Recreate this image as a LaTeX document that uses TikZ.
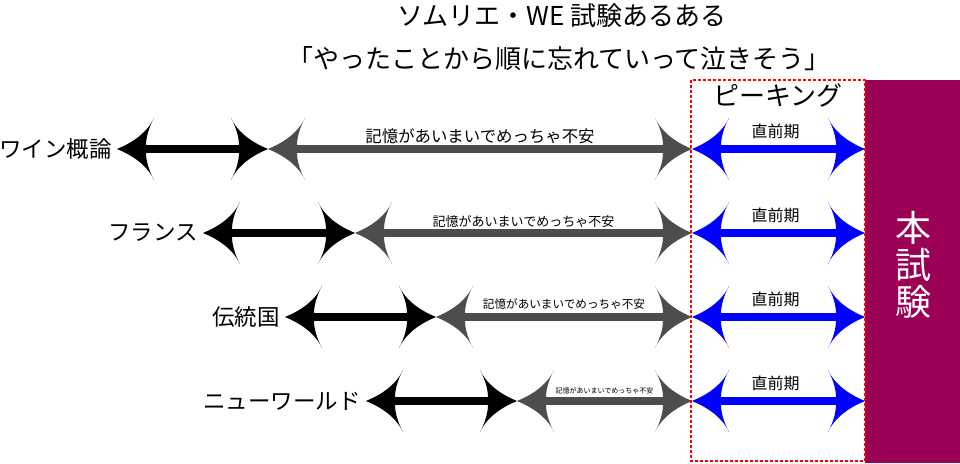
\documentclass[tikz,border=0pt]{standalone}
\usepackage{fontspec}
\newfontfamily\jp{Noto Sans CJK JP}
\usetikzlibrary{calc}
\definecolor{exampurple}{RGB}{155,0,87}
\definecolor{midgray}{RGB}{77,77,77}
\definecolor{arrblue}{RGB}{0,0,255}
\definecolor{dashred}{RGB}{255,0,0}
\tikzset{
  ahead/.pic={\fill[pic actions] (0,0) .. controls (-12,5) and (-29,14) .. (-37,31)
     .. controls (-31,20) and (-29,10) .. (-29,3.75) -- (-29,-3.75)
     .. controls (-29,-10) and (-31,-20) .. (-37,-31)
     .. controls (-29,-14) and (-12,-5) .. cycle;},
  shaft/.style={line width=7.5pt, shorten <=20pt, shorten >=20pt},
  rowlabel/.style={anchor=east, inner sep=0pt, font=\jp\fontsize{22.5pt}{26pt}\selectfont},
  title/.style={inner sep=0pt, font=\jp\fontsize{26pt}{30pt}\selectfont},
  nearlabel/.style={inner sep=0pt, font=\jp\fontsize{16pt}{19pt}\selectfont},
  peakbox/.style={draw=dashred, dash pattern=on 3pt off 2pt, line width=1.2pt},
}
\begin{document}
\begin{tikzpicture}[x=1pt,y=-1pt]
\useasboundingbox (0,0) rectangle (960,463);
\node[title] (t1) at (562,16) {ソムリエ・WE 試験あるある};
\node[title] (t2) at (559,59) {「やったことから順に忘れていって泣きそう」};
\fill[exampurple] (865,80) rectangle (960,463);
\node[inner sep=0pt, align=center, text=white, font=\jp\fontsize{36pt}{37pt}\selectfont] (exam) at (913,265) {本\\試\\験};
\node[inner sep=0pt, font=\jp\fontsize{26pt}{30pt}\selectfont] (peak) at (778,95) {ピーキング};
\foreach \i/\y/\a/\b/\lab/\fs/\dy in {1/149/117/268/ワイン概論/16.4/13, 2/233/203/355/フランス/13/11, 3/317/285/436/伝統国/11.6/13, 4/401/366/517/ニューワールド/7/10} {
  \coordinate (L\i) at (\a,\y);
  \coordinate (J\i) at (\b,\y);
  \coordinate (P\i) at (692,\y);
  \coordinate (E\i) at (865,\y);
  \node[rowlabel] (lab\i) at ([xshift=-5pt]L\i) {\lab};
  \draw[shaft,black] (L\i) -- (J\i);
  \pic[fill=black,rotate=180] at (L\i) {ahead};
  \pic[fill=black] at (J\i) {ahead};
  \draw[shaft,midgray] (J\i) -- (P\i);
  \pic[fill=midgray,rotate=180] at (J\i) {ahead};
  \pic[fill=midgray] at (P\i) {ahead};
  \draw[shaft,arrblue] (P\i) -- (E\i);
  \pic[fill=arrblue,rotate=180] at (P\i) {ahead};
  \pic[fill=arrblue] at (E\i) {ahead};
  \node[inner sep=0pt, font=\jp\fontsize{\fs pt}{\fs pt}\selectfont] (anx\i) at ($(J\i)!0.5!(P\i)+(0,-\dy)$) {記憶があいまいでめっちゃ不安};
  \node[nearlabel] (near\i) at ($(P\i)!0.5!(E\i)+(-3,-17.5)$) {直前期};
}
\path[peakbox] (691,80) rectangle (865,461);
\end{tikzpicture}
\end{document}
